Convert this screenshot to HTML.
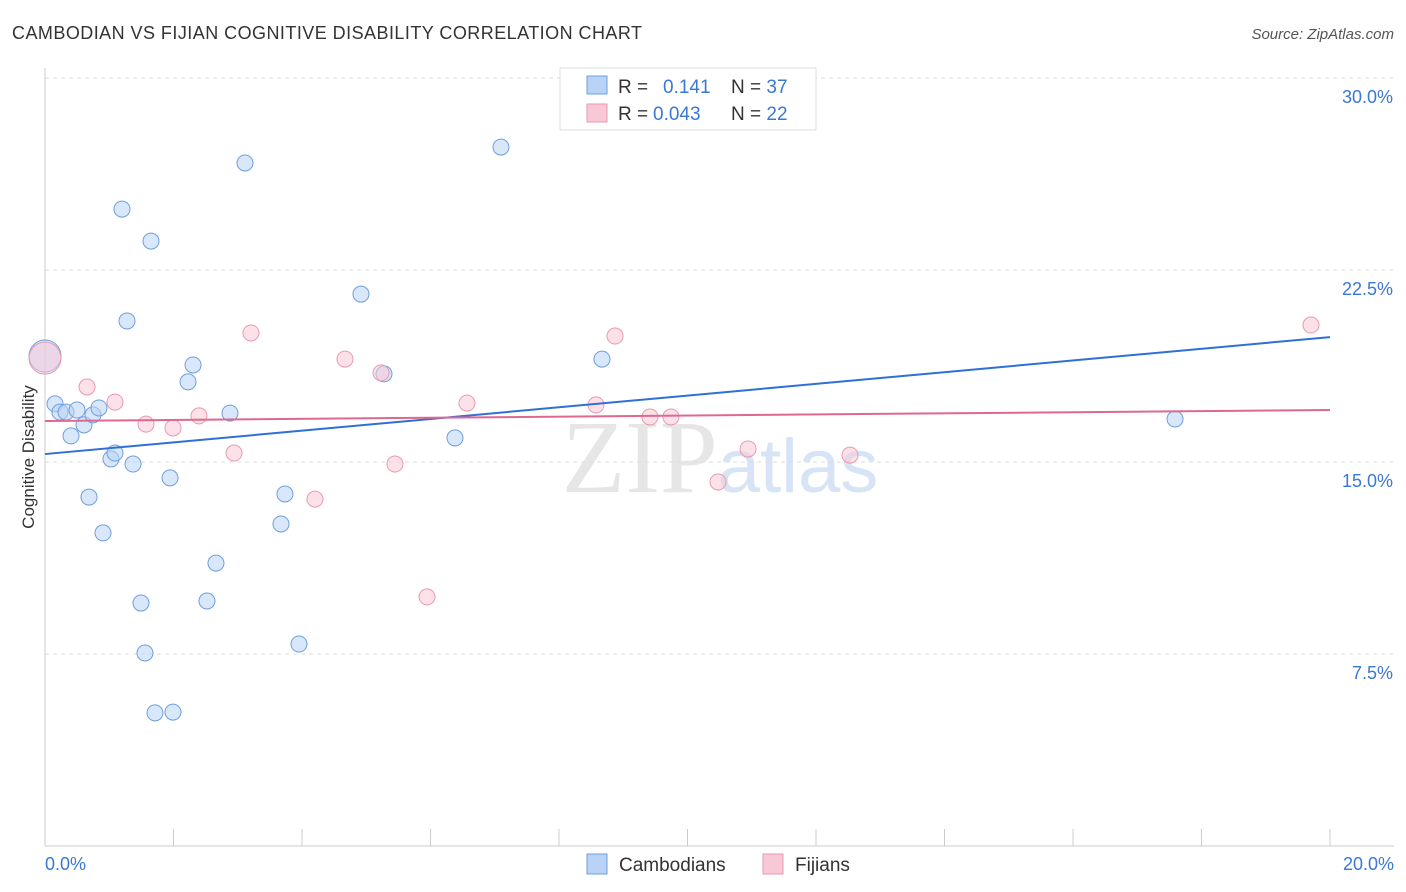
<!DOCTYPE html>
<html><head><meta charset="utf-8"><style>
body{margin:0;background:#fff;font-family:"Liberation Sans",sans-serif;}
svg{display:block}
</style></head><body>
<svg id="chart" width="1406" height="892">
<text x="12" y="39" font-size="18" fill="#333" textLength="630" lengthAdjust="spacing">CAMBODIAN VS FIJIAN COGNITIVE DISABILITY CORRELATION CHART</text>
<text x="1394" y="39" font-size="15" fill="#555" font-style="italic" text-anchor="end">Source: ZipAtlas.com</text>
<text x="720" y="492" font-size="104" fill="#e6e6e6" text-anchor="middle" font-family="Liberation Serif">ZIP<tspan fill="#d6e4f5" font-family="Liberation Sans" font-size="76">atlas</tspan></text>
<g id="grid"></g>
<g id="axes"></g>
<g id="marks"></g>
<text x="34" y="457" font-size="17" fill="#333" text-anchor="middle" transform="rotate(-90 34 457)">Cognitive Disability</text>
<g>
<rect x="560" y="68" width="256" height="62" fill="#fff" stroke="#ddd"/>
<rect x="587" y="76" width="20" height="18" fill="#b8d3f5" stroke="#6e9fdc"/>
<rect x="587" y="104" width="20" height="18" fill="#f9c8d6" stroke="#e89ab0"/>
<text x="618" y="93" font-size="19" fill="#333">R = <tspan fill="#3a78d4" x="663">0.141</tspan><tspan x="731">N = </tspan><tspan fill="#3a78d4">37</tspan></text>
<text x="618" y="120" font-size="19" fill="#333">R = <tspan fill="#3a78d4" x="653">0.043</tspan><tspan x="731">N = </tspan><tspan fill="#3a78d4">22</tspan></text>
</g>
<g>
<rect x="587" y="854" width="20" height="20" fill="#b8d3f5" stroke="#6e9fdc"/>
<text x="619" y="871" font-size="19" fill="#333">Cambodians</text>
<rect x="763" y="854" width="20" height="20" fill="#f9c8d6" stroke="#e89ab0"/>
<text x="795" y="871" font-size="19" fill="#333">Fijians</text>
</g>
</svg>
<script>
const blueX=[0,0.156,0.233,0.327,0.498,0.405,0.607,0.747,0.840,0.685,0.903,1.027,1.089,1.198,1.276,1.370,1.494,1.556,1.650,1.712,1.946,1.992,2.226,2.304,2.521,2.661,2.879,3.113,3.673,3.735,3.953,4.918,5.276,6.381,7.097,8.669,17.588];
const blueY=[19.14,17.27,16.95,16.95,17.03,16.02,16.45,16.84,17.11,13.63,12.23,15.12,15.35,24.88,20.51,14.92,9.49,7.54,23.63,5.20,14.38,5.23,18.13,18.79,9.57,11.05,16.91,26.68,12.58,13.75,7.89,21.56,18.44,15.94,27.30,19.02,16.68];
const pinkX=[0,0.654,1.089,1.572,1.992,2.397,2.942,3.206,4.202,4.669,5.230,5.447,5.946,6.568,8.576,8.872,9.416,9.743,10.475,10.942,12.529,19.704];
const pinkY=[19.06,17.93,17.34,16.48,16.33,16.80,15.35,20.04,13.55,19.02,18.48,14.92,9.73,17.30,17.23,19.92,16.76,16.76,14.22,15.51,15.27,20.35];
const blueTrend=[15.31,19.88];
const pinkTrend=[16.60,17.03];
const yTicks=[7.5,15,22.5,30];
const yTickLabels=["7.5%","15.0%","22.5%","30.0%"];
const xLabels=["0.0%","20.0%"];
const X0=45,X1=1330,Y0=846,YT=78;
const xs=v=>X0+(v/20)*(X1-X0);
const ys=v=>Y0-(v/30)*(Y0-YT);
const NS="http://www.w3.org/2000/svg";
function mk(tag,attrs,parent){const e=document.createElementNS(NS,tag);for(const k in attrs)e.setAttribute(k,attrs[k]);parent.appendChild(e);return e;}
const grid=document.getElementById('grid'),axes=document.getElementById('axes'),marks=document.getElementById('marks');
yTicks.forEach((t,i)=>{
  const l=mk('line',{x1:X0,x2:1394,y1:ys(t),y2:ys(t),stroke:'#ddd','stroke-dasharray':'4,4'},grid);
  
  
  const tx=mk('text',{x:1393,y:ys(t)+25,'font-size':18,fill:'#3a78d4','text-anchor':'end'},axes);
  tx.textContent=yTickLabels[i];
  
  
});
const ya=mk('line',{x1:X0,x2:X0,y1:68,y2:Y0,stroke:'#ccc'},axes);


const xa=mk('line',{x1:X0,x2:1394,y1:Y0,y2:Y0,stroke:'#ccc'},axes);


for(let i=0;i<=10;i++){
  const t=mk('line',{x1:xs(i*2),x2:xs(i*2),y1:829,y2:Y0,stroke:'#ccc'},axes);
  
  
}
[[0,'start',45],[20,'end',1394]].forEach((d,i)=>{
  const tx=mk('text',{x:d[2],y:870,'font-size':18,fill:'#3a78d4','text-anchor':d[1]},axes);
  tx.textContent=xLabels[i];
  
  
});
function pts(X,Y,fill,stroke,name){
  X.forEach((x,i)=>{
    const big=i===0;
    const c=mk('circle',{cx:xs(x),cy:ys(Y[i]),r:big?16:8,fill:fill,'fill-opacity':0.55,stroke:stroke,'stroke-width':1},marks);
    
    
  });
}
pts(blueX,blueY,'#b8d3f5','#6e9fdc','cambodian-point');
pts(pinkX,pinkY,'#f9c8d6','#e89ab0','fijian-point');
const bl=mk('line',{x1:xs(0),x2:xs(20),y1:ys(blueTrend[0]),y2:ys(blueTrend[1]),stroke:'#2f6fd6','stroke-width':2},marks);


const pl=mk('line',{x1:xs(0),x2:xs(20),y1:ys(pinkTrend[0]),y2:ys(pinkTrend[1]),stroke:'#e06890','stroke-width':2},marks);


</script>
</body></html>
